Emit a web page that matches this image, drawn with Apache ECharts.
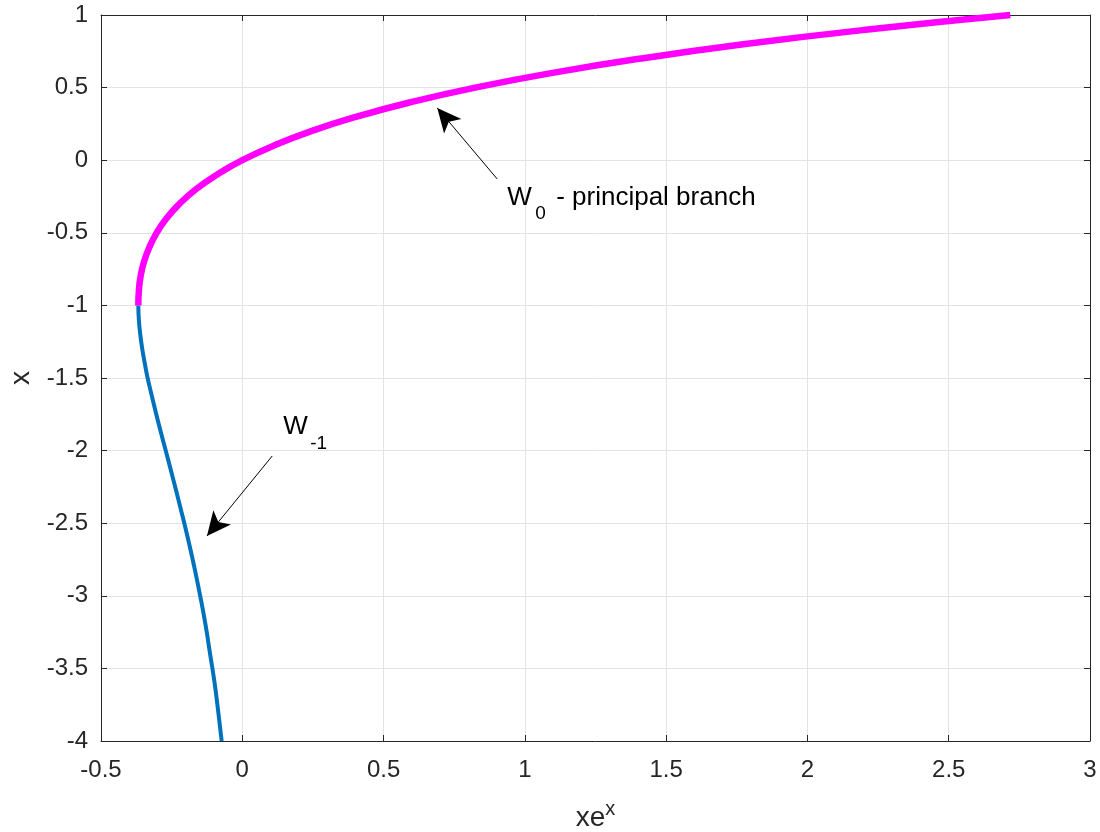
<!DOCTYPE html>
<html>
<head>
<meta charset="utf-8">
<script src="https://cdn.jsdelivr.net/npm/echarts@6/dist/echarts.min.js"></script>
<style>
  html, body { margin: 0; padding: 0; background: #fff; }
  #chart { width: 1100px; height: 832px; }
</style>
</head>
<body>
<div id="chart"></div>
<script>
// x values (vertical axis) and xe^x values (horizontal axis)
var w0X = [-1, -0.9, -0.8, -0.7, -0.6, -0.5, -0.4, -0.3, -0.2, -0.1, 0, 0.1, 0.2, 0.3, 0.4, 0.5, 0.6, 0.7, 0.8, 0.9, 1];
var w0XeX = [-0.368, -0.366, -0.360, -0.348, -0.329, -0.303, -0.268, -0.222, -0.164, -0.090, 0, 0.111, 0.244, 0.405, 0.597, 0.824, 1.093, 1.410, 1.780, 2.214, 2.718];

var wm1X = [-1, -1.1, -1.2, -1.3, -1.4, -1.5, -1.6, -1.8, -2, -2.2, -2.4, -2.6, -2.8, -3, -3.2, -3.4, -3.6, -3.8, -4];
var wm1XeX = [-0.368, -0.366, -0.361, -0.354, -0.345, -0.335, -0.323, -0.298, -0.271, -0.244, -0.218, -0.193, -0.170, -0.149, -0.130, -0.114, -0.098, -0.085, -0.073];

// annotation arrows [tail, tip] in data coords
var arrowW0 = [[0.902, -0.129], [0.69, 0.36]];
var arrowWm1 = [[0.106, -2.037], [-0.125, -2.588]];

function pairs(xs, ys) {
  var out = [];
  for (var i = 0; i < xs.length; i++) out.push([xs[i], ys[i]]);
  return out;
}

var font = 'Liberation Sans, Arial, sans-serif';
var chart = echarts.init(document.getElementById('chart'));

var axisCommon = {
  axisLine: { show: true, onZero: false, lineStyle: { color: '#262626', width: 1 } },
  axisTick: { show: true, inside: true, length: 6, lineStyle: { color: '#262626' } },
  splitLine: { show: true, lineStyle: { color: '#e3e3e3', width: 1 } },
  axisLabel: { color: '#262626', fontSize: 24, fontFamily: font }
};

function arrowLine(a) {
  return [{ coord: a[0], symbol: 'none' }, { coord: a[1], symbol: 'arrow' }];
}

var option = {
  animation: false,
  grid: { left: 101, right: 10, top: 15, bottom: 91, show: false, outerBoundsMode: 'none', containLabel: false },
  xAxis: [
    echarts.util.merge({
      type: 'value', min: -0.5, max: 3, interval: 0.5,
      name: '{b|xe}{s|x}', nameLocation: 'middle', nameGap: 58,
      nameTextStyle: {
        rich: {
          b: { fontSize: 28, fontFamily: font, color: '#262626' },
          s: { fontSize: 20, fontFamily: font, color: '#262626', verticalAlign: 'top', padding: [0, 0, 18, 0] }
        }
      },
      axisLabel: { margin: 17 }
    }, axisCommon, false),
    { type: 'value', position: 'top', min: -0.5, max: 3, interval: 0.5,
      axisLine: { show: true, onZero: false, lineStyle: { color: '#262626' } },
      axisTick: { show: true, inside: true, length: 6, lineStyle: { color: '#262626' } },
      axisLabel: { show: false }, splitLine: { show: false } }
  ],
  yAxis: [
    echarts.util.merge({
      type: 'value', min: -4, max: 1, interval: 0.5,
      name: 'x', nameLocation: 'middle', nameGap: 66,
      nameTextStyle: { fontSize: 28, fontFamily: font, color: '#262626' },
      axisLabel: { margin: 13 }
    }, axisCommon, false),
    { type: 'value', position: 'right', min: -4, max: 1, interval: 0.5,
      axisLine: { show: true, onZero: false, lineStyle: { color: '#262626' } },
      axisTick: { show: true, inside: true, length: 6, lineStyle: { color: '#262626' } },
      axisLabel: { show: false }, splitLine: { show: false } }
  ],
  series: [
    {
      name: 'W-1', type: 'line', showSymbol: false, smooth: true,
      data: pairs(wm1XeX, wm1X),
      lineStyle: { color: '#0072bd', width: 4 },
      markLine: {
        silent: true, symbolSize: [17, 24], animation: false,
        label: { show: false },
        lineStyle: { color: '#000', width: 1, type: 'solid' },
        data: [arrowLine(arrowWm1)]
      }
    },
    {
      name: 'W0', type: 'line', showSymbol: false, smooth: true,
      data: pairs(w0XeX, w0X),
      lineStyle: { color: '#ff00ff', width: 6.5 },
      markLine: {
        silent: true, symbolSize: [17, 24], animation: false,
        label: { show: false },
        lineStyle: { color: '#000', width: 1, type: 'solid' },
        data: [arrowLine(arrowW0)]
      }
    }
  ]
};
chart.setOption(option);

// text labels next to the arrow tails
function label(p, dx, dy, text, size) {
  return {
    type: 'text', x: p[0] + dx, y: p[1] + dy, silent: true,
    style: { text: text, fontSize: size, fontFamily: font, fill: '#000', align: 'left', verticalAlign: 'middle' }
  };
}
var p0 = chart.convertToPixel({ gridIndex: 0 }, arrowW0[0]);
var p1 = chart.convertToPixel({ gridIndex: 0 }, arrowWm1[0]);
chart.setOption({
  graphic: [
    label(p0, 10, 18.5, 'W', 26),
    label(p0, 38, 35, '0', 19),
    label(p0, 59, 18.5, '- principal branch', 26),
    label(p1, 11, -29, 'W', 26),
    label(p1, 38, -12.5, '-1', 19)
  ]
});
</script>
</body>
</html>
